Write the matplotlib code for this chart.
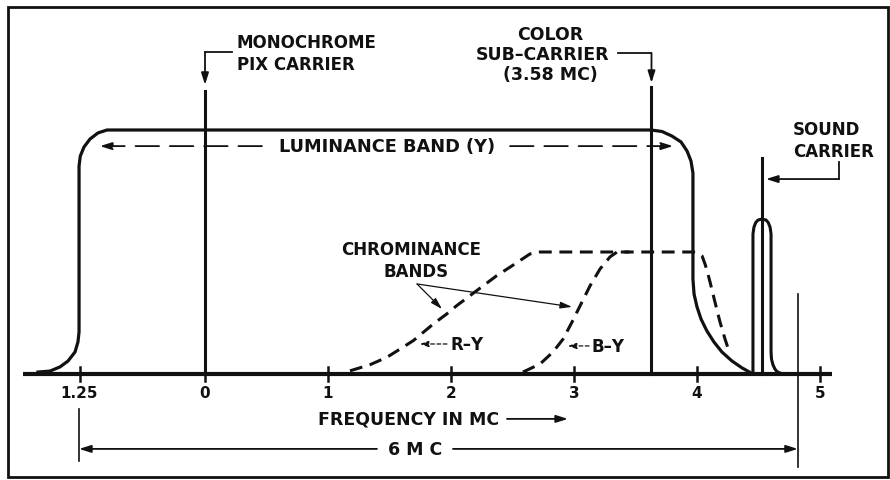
import matplotlib
matplotlib.use("Agg")
import matplotlib.pyplot as plt
from matplotlib.patches import Rectangle

# ---------------- data ----------------
tick_pos = [-1.02, 0, 1, 2, 3, 4, 5]
tick_labels = ["1.25", "0", "1", "2", "3", "4", "5"]

lum_x = [-1.358, -1.26, -1.179, -1.114, -1.057, -1.033, -1.024,
         -1.024, -1.014, -0.984, -0.935, -0.870, -0.797, -0.715,
         3.626, 3.715, 3.797, 3.870, 3.919, 3.951, 3.967,
         3.967, 3.976, 4.0, 4.033, 4.081, 4.138, 4.203, 4.285, 4.366, 4.455]
lum_y = [0.008, 0.012, 0.029, 0.053, 0.09, 0.131, 0.172,
         0.852, 0.893, 0.930, 0.963, 0.988, 1.0, 1.0,
         1.0, 0.994, 0.975, 0.951, 0.914, 0.873, 0.824,
         0.389, 0.328, 0.275, 0.225, 0.176, 0.131, 0.090, 0.053, 0.025, 0.0]

ry_x = [1.179, 1.341, 1.477, 1.585, 1.694, 1.775, 1.856, 1.965, 2.046, 2.154,
        2.263, 2.372, 2.480, 2.561, 2.642, 2.724,
        3.967, 4.008, 4.041, 4.065, 4.081, 4.106, 4.146, 4.187, 4.228, 4.26]
ry_y = [0.013, 0.038, 0.068, 0.102, 0.137, 0.171, 0.205, 0.246, 0.280, 0.321,
        0.362, 0.403, 0.438, 0.465, 0.492, 0.5,
        0.5, 0.496, 0.484, 0.451, 0.425, 0.377, 0.295, 0.213, 0.143, 0.094]

by_x = [2.585, 2.724, 2.829, 2.911, 2.984, 3.049, 3.130, 3.211, 3.293, 3.350, 3.45]
by_y = [0.008, 0.041, 0.09, 0.143, 0.213, 0.279, 0.361, 0.430, 0.480, 0.5, 0.5]

snd_x = [4.455, 4.455, 4.463, 4.478, 4.496, 4.528, 4.561, 4.579, 4.594, 4.602,
         4.602, 4.606, 4.618, 4.634, 4.65, 4.691]
snd_y = [0.0, 0.574, 0.602, 0.621, 0.631, 0.635, 0.631, 0.621, 0.602, 0.574,
         0.09, 0.06, 0.037, 0.02, 0.01, 0.0]

carrier_x = [0.0, 3.63, 4.53]
carrier_top = [1.16, 1.176, 0.885]

span_left, span_right = -1.024, 4.82

# ---------------- figure ----------------
W, H = 890, 481
fig = plt.figure(figsize=(W / 100, H / 100), dpi=100)
ax = fig.add_axes([0, 0, 1, 1])
ax.set_xlim(-205 / 123, (W - 205) / 123)
ax.set_ylim((375 - H) / 244, 375 / 244)
ax.axis("off")

K = "#111111"
FONT = dict(family="DejaVu Sans", fontweight="bold", color=K)

# frame
fig.patches.append(Rectangle((8 / W, 1 - 478 / H), 880 / W, 470 / H,
                             transform=fig.transFigure, fill=False,
                             lw=2.0, ec=K))

# baseline and ticks
ax.plot([-1.48, 5.1], [0, 0], color=K, lw=3.0, solid_capstyle="butt")
for p, lab in zip(tick_pos, tick_labels):
    ax.plot([p, p], [-0.03, 0.03], color=K, lw=1.8)
    ax.text(p, -0.074, lab, ha="center", va="center", fontsize=11,
            family="DejaVu Sans", fontweight="semibold", color=K)

# luminance curve
ax.plot(lum_x, lum_y, color=K, lw=2.3, solid_joinstyle="round")
# chrominance bands
ax.plot(ry_x, ry_y, color=K, lw=2.2, ls=(0, (4.2, 2.5)))
ax.plot(by_x, by_y, color=K, lw=2.2, ls=(0, (4.2, 2.5)))
# sound band
ax.plot(snd_x, snd_y, color=K, lw=2.2, solid_joinstyle="round")

# carrier lines
for cx, ct in zip(carrier_x, carrier_top):
    ax.plot([cx, cx], [0, ct], color=K, lw=2.2)

arrow_kw = dict(arrowstyle="-|>,head_length=0.7,head_width=0.22", color=K, lw=1.3,
                shrinkA=0, shrinkB=0)

# monochrome label
ax.text(0.26, 1.359, "MONOCHROME", ha="left", va="center", fontsize=12, **FONT)
ax.text(0.26, 1.27, "PIX CARRIER", ha="left", va="center", fontsize=12, **FONT)
ax.plot([0.22, 0.0], [1.32, 1.32], color=K, lw=1.3)
ax.annotate("", xy=(0.0, 1.185), xytext=(0.0, 1.32), arrowprops=arrow_kw)

# color sub-carrier label
ax.text(2.805, 1.395, "COLOR", ha="center", va="center", fontsize=12.5, **FONT)
ax.text(2.748, 1.311, "SUB\u2013CARRIER", ha="center", va="center", fontsize=12.5, **FONT)
ax.text(2.805, 1.23, "(3.58 MC)", ha="center", va="center", fontsize=12.5, **FONT)
ax.plot([3.358, 3.63], [1.316, 1.316], color=K, lw=1.3)
ax.annotate("", xy=(3.63, 1.193), xytext=(3.63, 1.316), arrowprops=arrow_kw)

# sound carrier label
ax.text(4.78, 1.004, "SOUND", ha="left", va="center", fontsize=12, **FONT)
ax.text(4.78, 0.914, "CARRIER", ha="left", va="center", fontsize=12, **FONT)
ax.plot([5.154, 5.154], [0.869, 0.799], color=K, lw=1.3)
ax.annotate("", xy=(4.561, 0.799), xytext=(5.154, 0.799), arrowprops=arrow_kw)

# luminance band label
ax.text(1.48, 0.934, "LUMINANCE BAND (Y)", ha="center", va="center", fontsize=12.8, **FONT)
dash_kw = dict(arrowstyle="-|>,head_length=0.7,head_width=0.22", color=K, lw=1.3,
               ls=(0, (13, 6)), shrinkA=0, shrinkB=0)
ax.annotate("", xy=(-0.854, 0.934), xytext=(0.463, 0.934), arrowprops=dash_kw)
ax.annotate("", xy=(3.805, 0.934), xytext=(2.48, 0.934), arrowprops=dash_kw)

# chrominance label
ax.text(1.675, 0.512, "CHROMINANCE", ha="center", va="center", fontsize=12, **FONT)
ax.text(1.715, 0.422, "BANDS", ha="center", va="center", fontsize=12, **FONT)
thin_kw = dict(arrowstyle="-|>,head_length=0.7,head_width=0.2", color=K, lw=0.9,
               shrinkA=0, shrinkB=0)
ax.annotate("", xy=(1.927, 0.266), xytext=(1.724, 0.369), arrowprops=thin_kw)
ax.annotate("", xy=(2.984, 0.275), xytext=(1.724, 0.369), arrowprops=thin_kw)

# R-Y and B-Y labels
small_kw = dict(arrowstyle="-|>,head_length=0.5,head_width=0.18", color=K, lw=0.9,
                ls=(0, (3, 2)), shrinkA=0, shrinkB=0)
ax.text(1.992, 0.123, "R\u2013Y", ha="left", va="center", fontsize=12, **FONT)
ax.annotate("", xy=(1.748, 0.123), xytext=(1.967, 0.123), arrowprops=small_kw)
ax.text(3.146, 0.115, "B\u2013Y", ha="left", va="center", fontsize=12, **FONT)
ax.annotate("", xy=(2.951, 0.115), xytext=(3.122, 0.115), arrowprops=small_kw)

# frequency axis label
ax.text(0.919, -0.184, "FREQUENCY IN MC", ha="left", va="center", fontsize=12.5, **FONT)
ax.annotate("", xy=(2.951, -0.184), xytext=(2.455, -0.184), arrowprops=arrow_kw)

# 6 MC dimension
ax.plot([span_left, span_left], [-0.143, -0.357], color=K, lw=1.2)
ax.plot([span_right, span_right], [0.328, -0.381], color=K, lw=1.2)
ax.text(1.707, -0.307, "6 M C", ha="center", va="center", fontsize=12.5, **FONT)
ax.annotate("", xy=(span_left, -0.307), xytext=(1.398, -0.307), arrowprops=arrow_kw)
ax.annotate("", xy=(span_right, -0.307), xytext=(2.016, -0.307), arrowprops=arrow_kw)

fig.savefig("out.png", dpi=100, facecolor="white")
